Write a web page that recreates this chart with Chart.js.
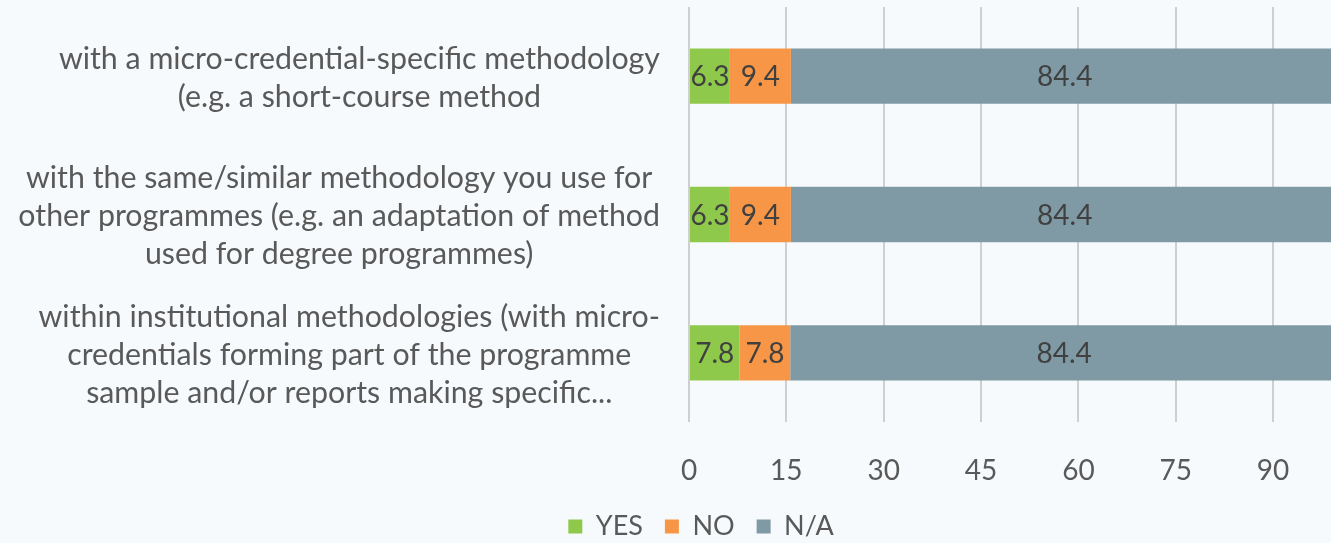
<!DOCTYPE html>
<html>
<head>
<meta charset="utf-8">
<script src="https://cdn.jsdelivr.net/npm/chart.js@4.4.1/dist/chart.umd.min.js"></script>
<style>
  html, body { margin: 0; padding: 0; background: #f7fafc; overflow: hidden; }
  #wrap { position: relative; width: 1340px; height: 543px; }
</style>
</head>
<body>
<div id="wrap"><canvas id="c"></canvas></div>
<script>
const categories = [
  ["with a micro-credential-specific methodology", "(e.g. a short-course method"],
  ["with the same/similar methodology you use for", "other programmes (e.g. an adaptation of method", "used for degree programmes)"],
  ["within institutional methodologies (with micro-", "credentials forming part of the programme", "sample and/or reports making specific..."]
];
const seriesNames = ["YES", "NO", "N/A"];
const yesValues = [6.3, 6.3, 7.8];
const noValues = [9.4, 9.4, 7.8];
const naValues = [84.4, 84.4, 84.4];
const xTicks = [0, 15, 30, 45, 60, 75, 90];
const colors = ["#8fc94c", "#f79646", "#7f9aa5"];

const FONT = "Lato, 'Open Sans', sans-serif";
const TEXT_GREY = "#595959";

const catLabelPlugin = {
  id: 'catLabels',
  afterDraw(chart) {
    const ctx = chart.ctx;
    const y = chart.scales.y;
    const rightEdge = 660;
    ctx.save();
    ctx.font = "26px " + FONT;
    const widest = ctx.measureText(categories[1][1]).width;
    const size = 26 * 642 / widest;
    ctx.font = size.toFixed(2) + "px " + FONT;
    ctx.fillStyle = TEXT_GREY;
    ctx.textAlign = "center";
    ctx.textBaseline = "middle";
    const lh = 38;
    categories.forEach((lines, i) => {
      const bw = Math.max(...lines.map(l => ctx.measureText(l).width));
      const cx = rightEdge - bw / 2;
      const cy = y.getPixelForValue(i) + 2;
      const top = cy - (lines.length - 1) * lh / 2;
      lines.forEach((l, k) => ctx.fillText(l, cx, top + k * lh));
    });
    ctx.restore();
  }
};

const dataLabelPlugin = {
  id: 'dataLabels',
  afterDatasetsDraw(chart) {
    const ctx = chart.ctx;
    ctx.save();
    ctx.font = "28px " + FONT;
    ctx.fillStyle = "#404040";
    ctx.textAlign = "center";
    ctx.textBaseline = "middle";
    chart.data.datasets.forEach((ds, di) => {
      const meta = chart.getDatasetMeta(di);
      meta.data.forEach((bar, i) => {
        const v = ds.data[i];
        const cx = (bar.x + bar.base) / 2;
        ctx.fillText(v.toFixed(1), cx, bar.y + 1);
      });
    });
    ctx.restore();
  }
};

new Chart(document.getElementById('c'), {
  type: 'bar',
  data: {
    labels: categories,
    datasets: [
      { label: seriesNames[0], data: yesValues, backgroundColor: colors[0] },
      { label: seriesNames[1], data: noValues, backgroundColor: colors[1] },
      { label: seriesNames[2], data: naValues, backgroundColor: colors[2] }
    ]
  },
  options: {
    indexAxis: 'y',
    responsive: true,
    maintainAspectRatio: false,
    animation: false,
    layout: { padding: { left: 64, right: 2, top: 7, bottom: -7 } },
    datasets: { bar: { categoryPercentage: 1, barPercentage: 0.4 } },
    scales: {
      x: {
        stacked: true,
        min: 0, max: 100,
        afterBuildTicks: axis => { axis.ticks = xTicks.map(v => ({ value: v })); },
        grid: { color: "#cfcfcf", lineWidth: 2, tickLength: 0, drawTicks: false },
        border: { display: false },
        ticks: { color: TEXT_GREY, font: { family: FONT, size: 28 }, padding: 32 },
        afterFit: s => { s.height = 69; }
      },
      y: {
        stacked: true,
        grid: { display: false },
        border: { display: false },
        ticks: { display: false },
        afterFit: s => { s.width = 625; }
      }
    },
    plugins: {
      legend: {
        position: 'bottom',
        labels: {
          color: TEXT_GREY,
          font: { family: FONT, size: 27 },
          boxWidth: 14, boxHeight: 14, padding: 22
        }
      },
      tooltip: { enabled: false }
    }
  },
  plugins: [catLabelPlugin, dataLabelPlugin]
});
</script>
</body>
</html>
